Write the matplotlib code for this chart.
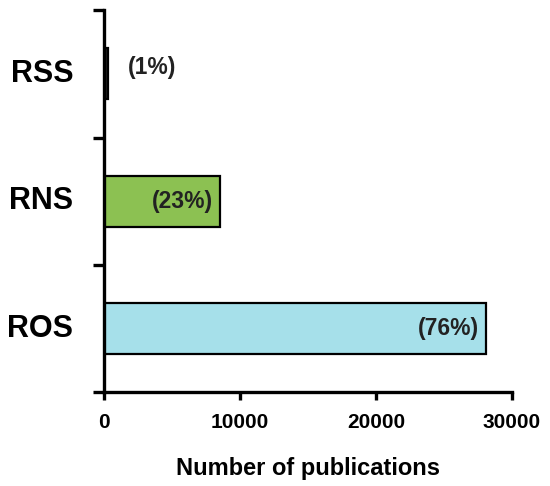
import matplotlib.pyplot as plt

categories = ["ROS", "RNS", "RSS"]
publications = [28100, 8500, 280]
shares = ["(76%)", "(23%)", "(1%)"]
bar_colors = ["#a6e0ea", "#8cc152", "#222222"]
x_ticks = [0, 10000, 20000, 30000]

plt.rcParams["font.family"] = ["Liberation Sans", "DejaVu Sans"]
plt.rcParams["font.weight"] = "bold"

fig = plt.figure(figsize=(5.5, 4.86), dpi=100)
ax = fig.add_axes([0.189, 0.193, 0.742, 0.786])

pos = list(range(len(categories)))
ax.barh(pos, publications, height=0.4, color=bar_colors,
        edgecolor="black", linewidth=1.6)

# percentage labels: inside the big bars, outside the tiny one
for y, val, txt in zip(pos, publications, shares):
    if val > 5000:
        ax.text(val - 500, y, txt, ha="right", va="center",
                fontsize=16.5, fontweight="bold", color="#222222")
    else:
        ax.text(val + 1500, y + 0.05, txt, ha="left", va="center",
                fontsize=16.5, fontweight="bold", color="#222222")

ax.set_xlim(0, 30000)
ax.set_ylim(-0.5, 2.5)
ax.set_xticks(x_ticks)
ax.set_xticklabels([str(t) for t in x_ticks], fontsize=15, fontweight="bold")

# y ticks sit on category boundaries, labels at centres
ax.set_yticks([-0.5, 0.5, 1.5, 2.5])
ax.set_yticklabels([])
for y, cat in zip(pos, categories):
    ax.text(-0.075, y, cat, transform=ax.get_yaxis_transform(),
            ha="right", va="center", fontsize=22, fontweight="bold")

for side in ["top", "right"]:
    ax.spines[side].set_visible(False)
for side in ["left", "bottom"]:
    ax.spines[side].set_linewidth(2.4)

ax.tick_params(axis="y", length=8, width=2.4)
ax.tick_params(axis="x", length=6, width=2.4, pad=9)

ax.set_xlabel("Number of publications", fontsize=17, fontweight="bold",
              labelpad=18)

fig.savefig("out.png", dpi=100)
